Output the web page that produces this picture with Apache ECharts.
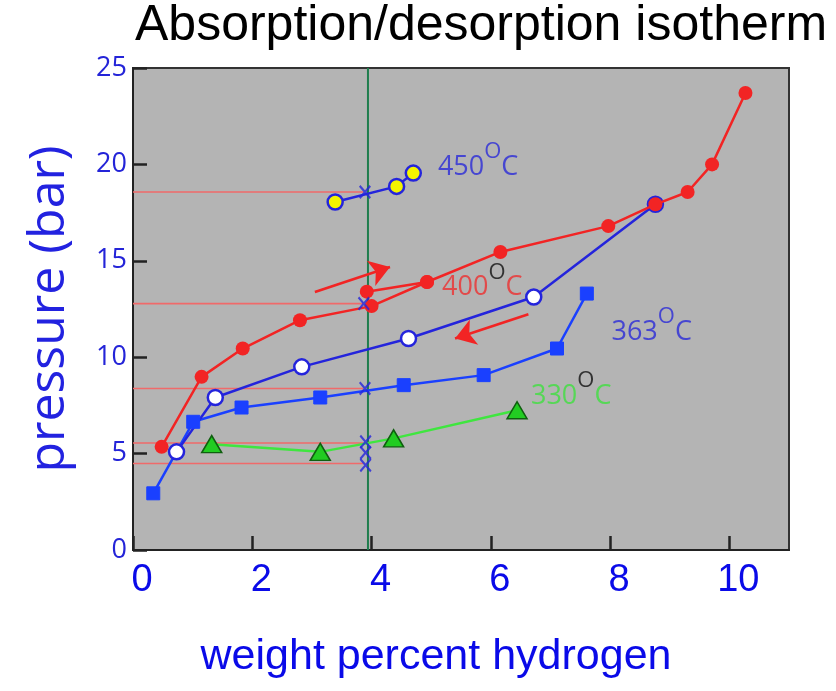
<!DOCTYPE html>
<html>
<head>
<meta charset="utf-8">
<script src="https://cdn.jsdelivr.net/npm/echarts@6/dist/echarts.min.js"></script>
<style>
html,body{margin:0;padding:0;background:#fff;}
#chart{width:836px;height:691px;}
</style>
</head>
<body>
<div id="chart"></div>
<script>
// ---- data ----
const titleText = 'Absorption/desorption isotherm';
const xTickVals = [0, 2, 4, 6, 8, 10];
const yTickVals = [0, 5, 10, 15, 20, 25];
const xMax = 11;

// 400 C absorption (red filled circles)
const abs400X = [0.48, 1.15, 1.84, 2.80, 4.00, 4.93, 6.16, 7.97, 8.76, 9.30, 9.71, 10.27];
const abs400Y = [5.35, 8.98, 10.45, 11.92, 12.65, 13.9, 15.46, 16.8, 17.93, 18.57, 20.0, 23.7];
// short second red branch near the vertical line
const abs400bX = [3.92, 4.93];
const abs400bY = [13.4, 13.9];
// 400 C desorption (open circles, blue)
const des400X = [0.73, 1.38, 2.83, 4.62, 6.72, 8.76];
const des400Y = [5.09, 7.91, 9.5, 10.97, 13.12, 17.93];
// 450 C (yellow circles)
const t450X = [3.39, 4.42, 4.70];
const t450Y = [18.05, 18.86, 19.55];
// 363 C (blue squares)
const t363X = [0.34, 1.01, 1.82, 3.14, 4.54, 5.88, 7.11, 7.61];
const t363Y = [2.94, 6.65, 7.39, 7.91, 8.55, 9.07, 10.45, 13.3];
// 330 C (green triangles)
const t330X = [1.32, 3.14, 4.37, 6.44];
const t330Y = [5.49, 5.09, 5.79, 7.25];
// blue crosses on the vertical line
const crossX = [3.89, 3.87, 3.89, 3.90, 3.90, 3.90];
const crossY = [18.57, 12.78, 8.38, 5.61, 5.05, 4.40];
// red horizontal reference lines (from x=0 to refEndX)
const refLineY = [18.57, 12.78, 8.38, 5.55, 4.49];
const refEndX = 3.86;
// green vertical line
const isoX = 3.94;
// arrows
const arrowFromX = [3.05, 6.63];
const arrowFromY = [13.38, 12.23];
const arrowToX = [4.31, 5.40];
const arrowToY = [14.68, 10.97];
// temperature labels
const tempLabels = ['450', '400', '363', '330'];
const tempLabelX = [5.13, 5.20, 8.04, 6.69];
const tempLabelY = [19.1, 12.85, 10.55, 7.2];

// ---- styles ----
const RED = '#f22424';
const BLUE = '#2424dc';
const BLUE2 = '#1a40ff';
const GREEN = '#3fe63f';
const tempColors = ['#2a2ad8', '#ee3030', '#2a2ad8', '#3fe03f'];
const degColors = ['#2a2ad8', '#111111', '#2a2ad8', '#111111'];

const zip = (xs, ys) => xs.map((x, i) => [x, ys[i]]);
const crossPath = 'path://M0,1.2L1.2,0L5,3.8L8.8,0L10,1.2L6.2,5L10,8.8L8.8,10L5,6.2L1.2,10L0,8.8L3.8,5Z';

const series = [];
// vertical green line
series.push({
  type: 'line', data: [[isoX, 0], [isoX, 25]], showSymbol: false, silent: true, z: 1,
  lineStyle: { color: '#1f7d4d', width: 2 }, animation: false
});
// horizontal red reference lines
refLineY.forEach(y => series.push({
  type: 'line', data: [[0, y], [refEndX, y]], showSymbol: false, silent: true, z: 1,
  lineStyle: { color: '#f06a6a', width: 1.6 }, animation: false
}));
// 330
series.push({
  type: 'line', data: zip(t330X, t330Y), symbol: 'triangle', symbolSize: [20, 17], z: 3,
  lineStyle: { color: GREEN, width: 2.5 },
  itemStyle: { color: '#22cc22', borderColor: '#0f5f0f', borderWidth: 1.5 }, animation: false
});
// 363
series.push({
  type: 'line', data: zip(t363X, t363Y), symbol: 'rect', symbolSize: 13, z: 3,
  lineStyle: { color: BLUE2, width: 2.5 },
  itemStyle: { color: BLUE2, borderColor: BLUE2 }, animation: false
});
// 400 desorption
series.push({
  type: 'line', data: zip(des400X, des400Y), symbol: 'circle', symbolSize: 15, z: 3,
  lineStyle: { color: BLUE, width: 2.5 },
  itemStyle: { color: '#ffffff', borderColor: BLUE, borderWidth: 2.5 }, animation: false
});
// 400 absorption
series.push({
  type: 'line', data: zip(abs400X, abs400Y), symbol: 'circle', symbolSize: 14, z: 4,
  lineStyle: { color: RED, width: 2.5 },
  itemStyle: { color: RED }, animation: false,
  markLine: {
    silent: true, symbol: ['none', 'arrow'], symbolSize: 20, animation: false,
    label: { show: false },
    lineStyle: { color: RED, width: 2.5, type: 'solid' },
    data: arrowFromX.map((x, i) => [{ coord: [x, arrowFromY[i]] }, { coord: [arrowToX[i], arrowToY[i]] }])
  }
});
series.push({
  type: 'line', data: zip(abs400bX, abs400bY), symbol: 'circle', symbolSize: 14, z: 4,
  lineStyle: { color: RED, width: 2.5 }, itemStyle: { color: RED }, animation: false
});
// 450
series.push({
  type: 'line', data: zip(t450X, t450Y), symbol: 'circle', symbolSize: 15, z: 3,
  lineStyle: { color: BLUE, width: 2.5 },
  itemStyle: { color: '#f4f400', borderColor: BLUE, borderWidth: 2.5 }, animation: false
});
// crosses
series.push({
  type: 'scatter', data: zip(crossX, crossY), symbol: crossPath, symbolSize: [12, 14], z: 5,
  itemStyle: { color: BLUE }, animation: false
});
// temperature labels
series.push({
  type: 'scatter', symbol: 'circle', symbolSize: 2, z: 6, silent: true, animation: false,
  itemStyle: { color: 'rgba(0,0,0,0)' },
  data: tempLabels.map((t, i) => ({
    value: [tempLabelX[i], tempLabelY[i]],
    label: {
      show: true, position: [0, 0], align: 'left', verticalAlign: 'bottom',
      formatter: '{n|' + t + '}{s|O}{n|C}',
      rich: {
        n: { fontSize: 27, fontFamily: 'Open Sans', color: tempColors[i], lineHeight: 40, verticalAlign: 'bottom' },
        s: { fontSize: 22, fontFamily: 'Open Sans', color: degColors[i], lineHeight: 40, verticalAlign: 'top' }
      }
    }
  }))
});

const chart = echarts.init(document.getElementById('chart'), null, { renderer: 'canvas' });
chart.setOption({
  animation: false,
  backgroundColor: '#ffffff',
  title: {
    text: titleText, left: 135, top: 1, padding: 0,
    textStyle: { fontFamily: 'Liberation Sans', fontSize: 50, fontWeight: 'normal', color: '#000' }
  },
  grid: {
    left: 133, right: 47, top: 68, bottom: 141, show: true,
    backgroundColor: '#b4b4b4', borderColor: '#333', borderWidth: 2,
    outerBoundsMode: 'none', containLabel: false
  },
  xAxis: {
    type: 'value', min: xTickVals[0], max: xMax, interval: 2,
    name: 'weight percent hydrogen', nameLocation: 'middle', nameGap: 86,
    nameTextStyle: { fontFamily: 'Liberation Sans', fontSize: 43, color: '#0a0ae8', padding: [0, 50, 0, 0] },
    axisLine: { show: true, lineStyle: { color: '#222', width: 2 } },
    axisTick: { show: true, inside: true, length: 14, lineStyle: { color: '#222', width: 2.5 } },
    axisLabel: {
      fontFamily: 'Liberation Sans', fontSize: 38, color: '#0a0ae8', margin: 12,
      showMaxLabel: false, padding: [0, 0, 0, 18],
      formatter: v => (xTickVals.indexOf(v) >= 0 ? String(v) : '')
    },
    splitLine: { show: false }
  },
  yAxis: {
    type: 'value', min: yTickVals[0], max: yTickVals[yTickVals.length - 1], interval: 5,
    name: 'pressure (bar)', nameLocation: 'middle', nameGap: 58, nameRotate: 90,
    nameTextStyle: { fontFamily: 'Open Sans', fontSize: 50, color: '#2222e0' },
    axisLine: { show: true, lineStyle: { color: '#222', width: 2 } },
    axisTick: { show: true, inside: true, length: 14, lineStyle: { color: '#222', width: 2.5 } },
    axisLabel: {
      fontFamily: 'Open Sans', fontSize: 27, color: '#2424d8', margin: 6,
      formatter: v => (yTickVals.indexOf(v) >= 0 ? String(v) : '')
    },
    splitLine: { show: false }
  },
  series: series
});
</script>
</body>
</html>
